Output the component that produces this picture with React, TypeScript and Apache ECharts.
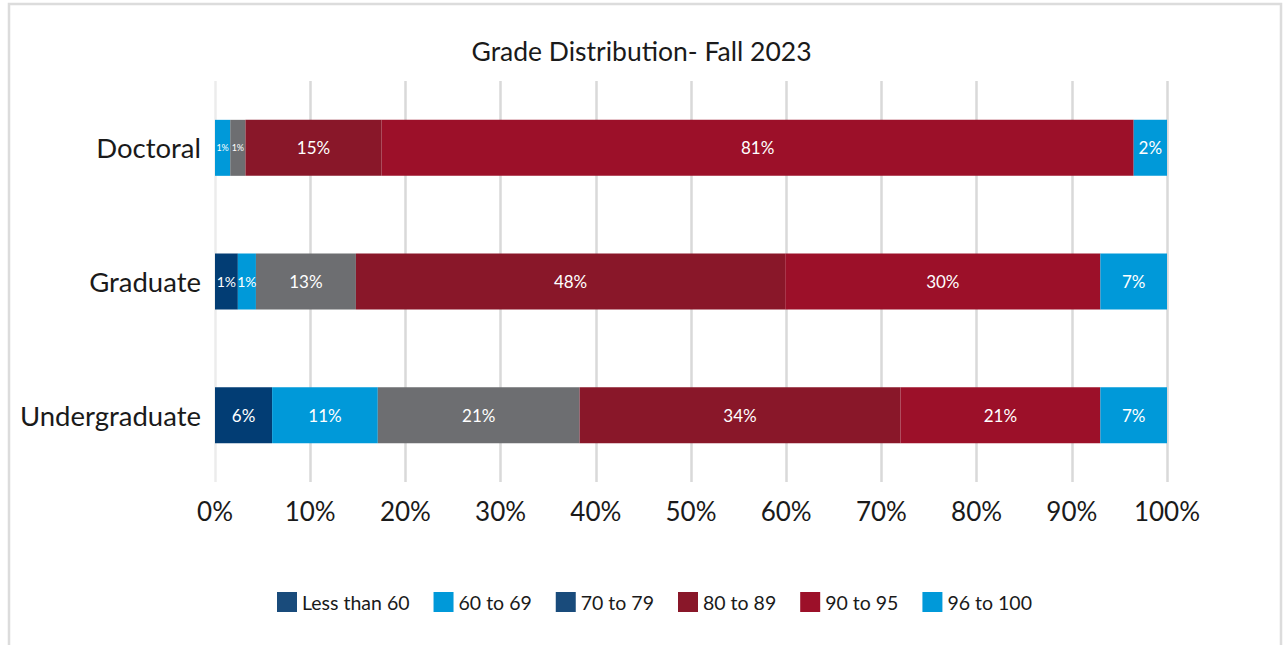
import React, { useEffect, useRef } from "react";
import * as echarts from "echarts";

const categories = ["Undergraduate", "Graduate", "Doctoral"];
const seriesNames = ["Less than 60", "60 to 69", "70 to 79", "80 to 89", "90 to 95", "96 to 100"];
const xTicks = [0, 10, 20, 30, 40, 50, 60, 70, 80, 90, 100];

// segment widths (percent of bar)
const lessThan60 = [6.0, 2.4, 0];
const from60to69 = [11.1, 1.9, 1.6];
const from70to79 = [21.2, 10.5, 1.6];
const from80to89 = [33.7, 45.1, 14.3];
const from90to95 = [21.0, 33.1, 79.0];
const from96to100 = [7.0, 7.0, 3.5];

// labels as printed on the bars
const lessThan60Labels = ["6%", "1%", ""];
const from60to69Labels = ["11%", "1%", "1%"];
const from70to79Labels = ["21%", "13%", "1%"];
const from80to89Labels = ["34%", "48%", "15%"];
const from90to95Labels = ["21%", "30%", "81%"];
const from96to100Labels = ["7%", "7%", "2%"];

const allValues = [lessThan60, from60to69, from70to79, from80to89, from90to95, from96to100];
const allLabels = [lessThan60Labels, from60to69Labels, from70to79Labels, from80to89Labels, from90to95Labels, from96to100Labels];

const barColors = ["#023D74", "#0099D9", "#6D6E71", "#891729", "#9C1029", "#0099D9"];
const legendColors = ["#194B7B", "#0099D9", "#194B7B", "#891729", "#9C1029", "#0099D9"];

const FONT = "Lato";

export default function App() {
  const ref = useRef<HTMLDivElement>(null);

  useEffect(() => {
    if (!ref.current) return;
    const chart = echarts.init(ref.current, undefined, { renderer: "svg" });

    const series = seriesNames.map((name, si) => ({
      name,
      type: "bar",
      stack: "total",
      barWidth: 56,
      itemStyle: { color: legendColors[si] },
      data: allValues[si].map((v, ci) => ({
        value: v,
        itemStyle: { color: barColors[si] },
        label: {
          show: allLabels[si][ci] !== "",
          formatter: allLabels[si][ci],
          fontSize: v < 1.8 ? 9 : v < 3 ? 14 : 17,
        },
      })),
      label: {
        show: true,
        position: "inside",
        color: "#ffffff",
        fontFamily: FONT,
      },
      emphasis: { disabled: true },
    }));

    chart.setOption({
      animation: false,
      backgroundColor: "#ffffff",
      title: {
        text: "Grade Distribution- Fall 2023",
        left: "center",
        top: 32,
        textStyle: { fontFamily: FONT, fontSize: 26.5, fontWeight: "normal", color: "#1a1a1a" },
      },
      graphic: [
        {
          type: "rect",
          shape: { x: 9, y: 4, width: 1272, height: 700 },
          style: { fill: "none", stroke: "#dcdcdc", lineWidth: 2.5 },
          silent: true,
        },
      ],
      legend: {
        top: 587,
        left: 272,
        icon: "rect",
        itemWidth: 20,
        itemHeight: 20,
        itemGap: 24,
        data: seriesNames.map((n, i) => ({ name: n, itemStyle: { color: legendColors[i] } })),
        textStyle: { fontFamily: FONT, fontSize: 19.5, color: "#1a1a1a" },
      },
      grid: { left: 215, right: 116, top: 81, height: 401, containLabel: false },
      xAxis: {
        type: "value",
        min: xTicks[0],
        max: xTicks[xTicks.length - 1],
        interval: xTicks[1] - xTicks[0],
        axisLine: { show: false },
        axisTick: { show: false },
        axisLabel: {
          formatter: "{value}%",
          fontFamily: FONT,
          fontSize: 26,
          color: "#1a1a1a",
          margin: 16,
        },
        splitLine: {
          show: true,
          lineStyle: {
            color: ["#ececec", "#d9d9d9", "#d9d9d9", "#d9d9d9", "#d9d9d9", "#d9d9d9", "#d9d9d9", "#d9d9d9", "#d9d9d9", "#d9d9d9", "#d9d9d9"],
            width: 2.5,
          },
        },
      },
      yAxis: {
        type: "category",
        data: categories,
        axisLine: { show: false },
        axisTick: { show: false },
        axisLabel: { fontFamily: FONT, fontSize: 27.5, color: "#1a1a1a", margin: 14 },
      },
      series,
    });

    return () => chart.dispose();
  }, []);

  return (
    <div
      ref={ref}
      style={{ position: "absolute", left: 0, top: 0, width: 1283, height: 645 }}
    />
  );
}
